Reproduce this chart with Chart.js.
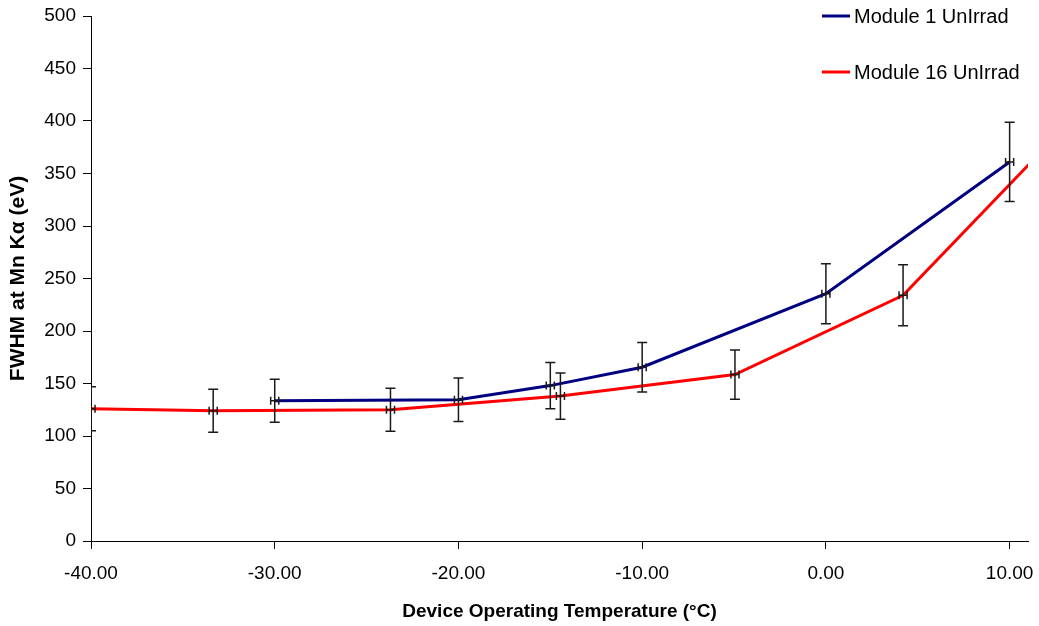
<!DOCTYPE html>
<html>
<head>
<meta charset="utf-8">
<script src="https://cdn.jsdelivr.net/npm/chart.js@4/dist/chart.umd.min.js"></script>
<style>
  html, body { margin: 0; padding: 0; background: #fff; }
  #wrap { width: 1039px; height: 626px; position: relative; }
</style>
</head>
<body>
<div id="wrap"><canvas id="fwhm_chart"></canvas></div>
<script>
// values
let mod1Temp = [-30, -20, -15, -10, 0, 10];
let mod1Fwhm = [133.5, 134.5, 148, 165.5, 235.5, 361];
let mod1Err = [20.5, 20.7, 22, 23.5, 28.5, 37.7];
let mod1TempErr = [0.22, 0.22, 0.22, 0.22, 0.22, 0.22];

let mod16Temp = [-40, -33.35, -23.7, -14.45, -4.95, 4.2, 12];
let mod16Fwhm = [126, 124, 125, 138, 158.5, 234, 376];
let mod16Err = [21, 20.5, 20.5, 22, 23.5, 29, 0];
let mod16TempErr = [0.22, 0.22, 0.22, 0.22, 0.22, 0.22, 0];

let xTicks = [-40, -30, -20, -10, 0, 10];
let seriesNames = ['Module 1 UnIrrad', 'Module 16 UnIrrad'];
let seriesColors = ['#000080', '#ff0000'];

let FONT = "'Liberation Sans', Arial, sans-serif";

function toPoints(xs, ys) {
  let pts = [];
  for (let i = 0; i < xs.length; i++) pts.push({x: xs[i], y: ys[i]});
  return pts;
}

// error bars, drawn over the lines
let errorBars = {
  id: 'errorBars',
  afterDatasetsDraw(chart) {
    let c = chart.ctx, xs = chart.scales.x, ys = chart.scales.y, a = chart.chartArea;
    let sets = [[mod1Temp, mod1Fwhm, mod1Err, mod1TempErr], [mod16Temp, mod16Fwhm, mod16Err, mod16TempErr]];
    c.save();
    c.beginPath();
    c.rect(a.left, a.top - 5, a.right - a.left, a.bottom - a.top + 10);
    c.clip();
    c.strokeStyle = '#1a1a1a';
    c.lineWidth = 1.5;
    sets.forEach(s => {
      for (let i = 0; i < s[0].length; i++) {
        if (!s[2][i]) continue;
        let px = xs.getPixelForValue(s[0][i]);
        let py = ys.getPixelForValue(s[1][i]);
        let top = ys.getPixelForValue(s[1][i] + s[2][i]);
        let bot = ys.getPixelForValue(s[1][i] - s[2][i]);
        let l = xs.getPixelForValue(s[0][i] - s[3][i]);
        let r = xs.getPixelForValue(s[0][i] + s[3][i]);
        c.beginPath();
        c.moveTo(px, top); c.lineTo(px, bot);
        c.moveTo(px - 5, top); c.lineTo(px + 5, top);
        c.moveTo(px - 5, bot); c.lineTo(px + 5, bot);
        c.moveTo(l, py); c.lineTo(r, py);
        c.moveTo(l, py - 4); c.lineTo(l, py + 4);
        c.moveTo(r, py - 4); c.lineTo(r, py + 4);
        c.stroke();
      }
    });
    c.restore();
  }
};

// legend in the top right corner
let cornerLegend = {
  id: 'cornerLegend',
  afterDraw(chart) {
    let c = chart.ctx;
    c.save();
    c.font = '20px ' + FONT;
    c.textBaseline = 'middle';
    c.fillStyle = '#000';
    for (let i = 0; i < seriesNames.length; i++) {
      let y = 16 + i * 56;
      c.strokeStyle = seriesColors[i];
      c.lineWidth = 3;
      c.beginPath();
      c.moveTo(822, y); c.lineTo(850, y);
      c.stroke();
      c.fillText(seriesNames[i], 854, y + 1);
    }
    c.restore();
  }
};

let ctx = document.getElementById('fwhm_chart');

let data = {
  datasets: [{
    label: seriesNames[0],
    data: toPoints(mod1Temp, mod1Fwhm),
    borderColor: seriesColors[0],
    backgroundColor: seriesColors[0],
    borderWidth: 3,
    pointRadius: 0,
    tension: 0,
    clip: 0
  }, {
    label: seriesNames[1],
    data: toPoints(mod16Temp, mod16Fwhm),
    borderColor: seriesColors[1],
    backgroundColor: seriesColors[1],
    borderWidth: 3,
    pointRadius: 0,
    tension: 0,
    clip: 0
  }]
};

let options = {
  responsive: true,
  maintainAspectRatio: false,
  animation: false,
  layout: { padding: { left: 0, right: 11, top: 16, bottom: 0 } },
  plugins: { legend: { display: false }, tooltip: { enabled: false } },
  scales: {
    x: {
      type: 'linear',
      min: -40,
      max: 11,
      afterBuildTicks: s => { s.ticks = xTicks.map(v => ({value: v})); },
      afterFit: s => { s.height = 85; s.paddingLeft = 0; s.paddingRight = 0; },
      border: { color: '#000', width: 1 },
      grid: { drawOnChartArea: false, color: '#000', tickLength: 8 },
      ticks: {
        color: '#000',
        font: { family: FONT, size: 19 },
        padding: 13,
        maxRotation: 0,
        callback: v => v.toFixed(2)
      },
      title: {
        display: true,
        text: 'Device Operating Temperature (°C)',
        color: '#000',
        font: { family: FONT, size: 19, weight: 'bold' },
        padding: { top: 4, bottom: 3 }
      }
    },
    y: {
      min: 0,
      max: 500,
      afterFit: s => { s.width = 91; s.paddingTop = 0; s.paddingBottom = 0; },
      border: { color: '#000', width: 1 },
      grid: { drawOnChartArea: false, color: '#000', tickLength: 8 },
      ticks: {
        stepSize: 50,
        color: '#000',
        font: { family: FONT, size: 19 },
        padding: 7
      },
      title: {
        display: true,
        text: 'FWHM at Mn Kα (eV)',
        color: '#000',
        font: { family: FONT, size: 21, weight: 'bold' },
        padding: { top: 6, bottom: 0 }
      }
    }
  }
};

let fwhm_chart = new Chart(ctx, {
  type: 'line',
  data: data,
  options: options,
  plugins: [errorBars, cornerLegend]
});
</script>
</body>
</html>
